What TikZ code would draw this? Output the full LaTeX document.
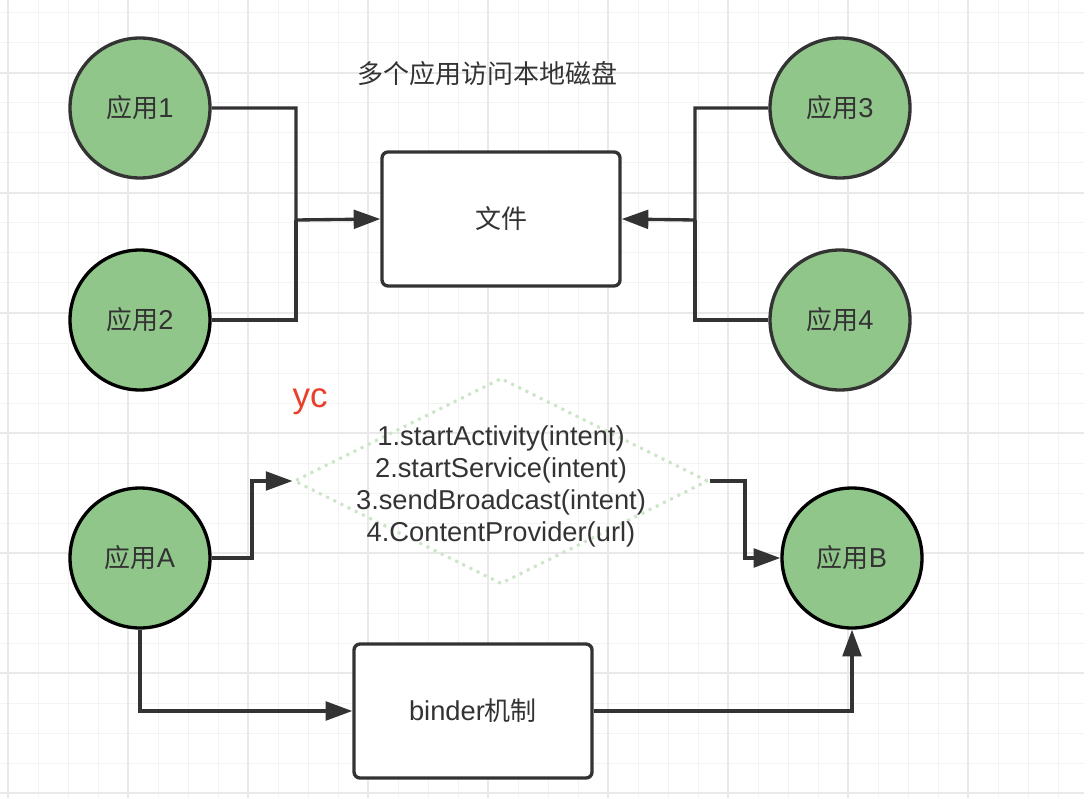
\documentclass[tikz,border=0pt]{standalone}
\usepackage{fontspec}
\setmainfont{Liberation Sans}[Scale=1.05]
\newfontfamily\cjk{Noto Sans CJK SC}
\usetikzlibrary{arrows.meta, shapes.geometric, calc}

\definecolor{appgreen}{RGB}{145,198,139}
\definecolor{linegray}{RGB}{51,51,51}
\definecolor{gridminor}{RGB}{243,243,243}
\definecolor{gridmajor}{RGB}{233,233,233}
\definecolor{dotgreen}{RGB}{204,229,200}
\definecolor{ycred}{RGB}{232,64,42}

\newcommand{\labelfont}{\fontsize{19.5}{23.25}\selectfont}

\tikzset{
  app/.style={circle, draw=linegray, fill=appgreen, line width=2.5pt,
    minimum size=105pt, inner sep=0pt, text=linegray, font=\labelfont},
  appdark/.style={app, draw=black},
  box/.style={rectangle, rounded corners=4.5pt, draw=linegray, fill=white,
    line width=2.5pt, minimum width=178.5pt, minimum height=100.5pt,
    text=linegray, font=\labelfont},
  conn/.style={draw=linegray, line width=2.5pt},
  arr/.style={conn, -{Triangle[length=20pt, width=14pt]}},
}

\begin{document}
\begin{tikzpicture}[x=0.75pt, y=-0.75pt]
\useasboundingbox (0,0) rectangle (1084,798);
\fill[white] (0,0) rectangle (1084,798);

% grid
\foreach \gx in {8,38,...,1084} \draw[gridminor, line width=0.75pt] (\gx,0) -- (\gx,798);
\foreach \gy in {13,43,...,798} \draw[gridminor, line width=0.75pt] (0,\gy) -- (1084,\gy);
\foreach \gx in {8,128,...,1084} \draw[gridmajor, line width=1.1pt] (\gx,0) -- (\gx,798);
\foreach \gy in {73,193,...,798} \draw[gridmajor, line width=1.1pt] (0,\gy) -- (1084,\gy);

% upper part
\node[text=linegray, font=\labelfont] (title) at (487,74) {\cjk 多个应用访问本地磁盘};

\node[app] (app1) at (140,108) {{\cjk 应用}1};
\node[appdark] (app2) at (140,320) {{\cjk 应用}2};
\node[app] (app3) at (840,108) {{\cjk 应用}3};
\node[app] (app4) at (840,320) {{\cjk 应用}4};

\node[box] (file) at (501,219) {\cjk 文件};

\coordinate (jleft) at (296,220);
\coordinate (jright) at (695,220);

\draw[arr] (app1.east) -| (jleft) -- (file.west);
\draw[conn] (app2.east) -| (jleft);
\draw[arr] (app3.west) -| (jright) -- (file.east);
\draw[conn] (app4.west) -| (jright);

% lower part
\node[text=ycred, font=\fontsize{25}{30}\selectfont] (yc) at (310,402) {yc};

\node[diamond, draw=dotgreen, line width=2.25pt, dash pattern=on 2.25pt off 3.75pt,
  minimum width=310.5pt, minimum height=154.5pt, inner sep=0pt] (intent) at (501,481) {};
\node[align=center, text=linegray, font=\fontsize{19.5}{24}\selectfont] (intentText) at (501,486)
  {1.startActivity(intent)\\2.startService(intent)\\3.sendBroadcast(intent)\\4.ContentProvider(url)};

\node[appdark] (appA) at (140,558) {{\cjk 应用}A};
\node[appdark] (appB) at (852,558) {{\cjk 应用}B};

\node[box] (binder) at (473,711) {binder{\cjk 机制}};

\draw[arr] (appA.east) -| ($(appA.east)!0.5!(intent.west)$) |- (intent.west);
\draw[arr] (intent.east) -| ($(intent.east)!0.5!(appB.west)$) |- (appB.west);
\draw[arr] (appA.south) |- (binder.west);
\draw[arr] (binder.east) -| (appB.south);

\end{tikzpicture}
\end{document}
